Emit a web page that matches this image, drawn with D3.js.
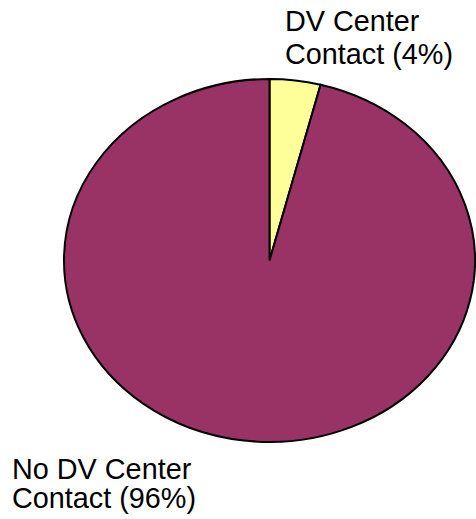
<!DOCTYPE html>
<html><head><meta charset="utf-8">
<script src="https://cdn.jsdelivr.net/npm/d3@7"></script>
<style>body{margin:0;background:#fff}svg{display:block}</style>
</head><body>
<script>
const categories = ["DV Center Contact", "No DV Center Contact"];
const values = [4, 96];
const labelLines = [["DV Center", "Contact (4%)"], ["No DV Center", "Contact (96%)"]];
const colors = ["#FFFF99", "#993366"];

const W = 476, H = 519;
const cx = 269.5, cy = 260.5, rx = 205.5, ry = 181.5;
const svg = d3.select("body").append("svg").attr("width", W).attr("height", H);

const pie = d3.pie().sort(null).value(d => d)(values);
const R = 100;
const arc = d3.arc().innerRadius(0).outerRadius(R);
const g = svg.append("g").attr("transform", `translate(${cx},${cy}) scale(${rx / R},${ry / R})`);
g.selectAll("path").data(pie).join("path")
  .attr("d", arc)
  .attr("fill", (d, i) => colors[i])
  .attr("stroke", "#000")
  .attr("stroke-width", 2)
  .attr("vector-effect", "non-scaling-stroke");

const labelPos = [{x: 285, y: 31, dy: 33}, {x: 12, y: 479, dy: 29}];
labelLines.forEach((lines, i) => {
  const t = svg.append("text")
    .attr("font-family", "Liberation Sans, Arial, sans-serif")
    .attr("font-size", 28.8)
    .attr("fill", "#000");
  lines.forEach((l, j) => {
    t.append("tspan").attr("x", labelPos[i].x).attr("y", labelPos[i].y + j * labelPos[i].dy).text(l);
  });
});
</script>
</body></html>
